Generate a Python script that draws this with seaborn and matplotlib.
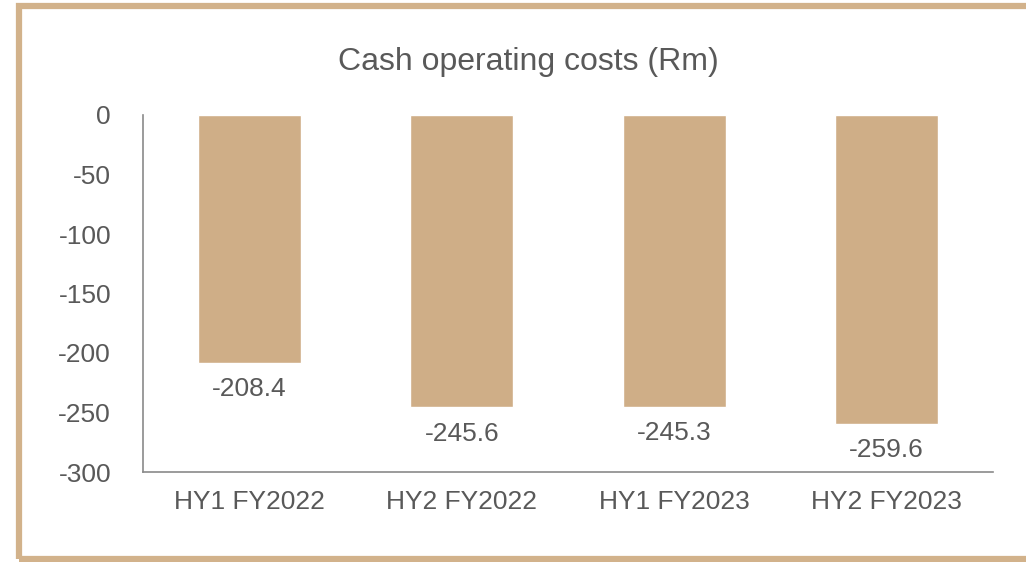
import pandas as pd
import seaborn as sns
import matplotlib.pyplot as plt
from matplotlib.patches import Rectangle

periods = ['HY1 FY2022', 'HY2 FY2022', 'HY1 FY2023', 'HY2 FY2023']
costs = [-208.4, -245.6, -245.3, -259.6]
yticks = [0, -50, -100, -150, -200, -250, -300]

barColor = '#CFAE87'
textColor = '#595959'

df = pd.DataFrame({'period': periods, 'cost': costs})

sns.set_style('white')
plt.rcParams['font.family'] = ['Liberation Sans', 'DejaVu Sans']

fig = plt.figure(figsize=(10.26, 5.62), dpi=100)
ax = fig.add_axes([143/1026, 1-472/562, 850/1026, 357/562])

sns.barplot(data=df, x='period', y='cost', color=barColor, width=0.485,
            saturation=1, ax=ax)

ax.set_ylim(-300, 0)
ax.set_yticks(yticks)
ax.set_yticklabels([str(t) for t in yticks])
ax.set_xlim(-0.5, 3.5)
ax.set_xlabel('')
ax.set_ylabel('')
ax.tick_params(axis='y', length=0, pad=23, labelsize=19, labelcolor=textColor)
ax.tick_params(axis='x', length=0, pad=13, labelsize=19, labelcolor=textColor)

for side in ['top', 'right']:
    ax.spines[side].set_visible(False)
for side in ['left', 'bottom']:
    ax.spines[side].set_color('#8a8a8a')
    ax.spines[side].set_linewidth(1.2)

for i, v in enumerate(costs):
    ax.annotate(f'{v:.1f}', xy=(i, v), xytext=(0, -19), textcoords='offset points',
                ha='center', va='center', fontsize=19, color=textColor)

fig.text(528/1026, 1-62/562, 'Cash operating costs (Rm)', ha='center', va='center',
         fontsize=23, color=textColor)

# tan frame round the chart
fig.patches.append(Rectangle((19/1026, 1-559/562), 1020/1026, 553/562,
                             transform=fig.transFigure, fill=False,
                             edgecolor='#D2B28B', linewidth=4.5))

fig.savefig('out.png', dpi=100)
